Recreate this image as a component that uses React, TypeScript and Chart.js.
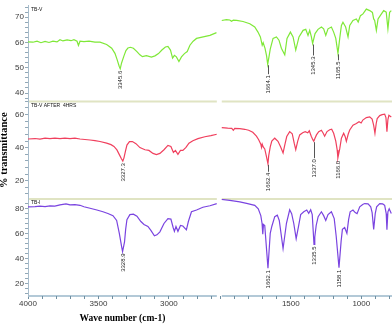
import React, { useEffect, useRef } from 'react';
import { Chart, registerables } from 'chart.js';

Chart.register(...registerables);

// ---------- Data (wavenumber cm-1, % transmittance) ----------
const tbvLeftWn = [4000,3965,3936,3908,3879,3851,3823,3794,3773,3752,3723,3695,3674,3652,3642,3631,3603,3567,3525,3489,3442,3406,3383,3367,3353,3345.6,3336,3319,3305,3291,3273,3252,3227,3206,3188,3160,3124,3099,3074,3050,3025,3007,2989,2974,2961,2947,2929,2911,2890,2870,2851,2828,2804,2757,2709,2662];
const tbvLeftT = [60.2,60.1,60.5,59.9,60.4,60.0,60.5,60.2,61.1,60.6,61.0,60.7,61.1,60.5,58.8,60.5,60.3,60.5,60.1,60.1,59.2,57.7,55.7,53.1,50.6,49.6,51.9,54.7,56.8,57.8,58.1,57.7,56.4,55.1,54.4,54.8,54.2,54.7,55.6,57.0,58.2,58.4,57.0,53.8,54.9,54.3,52.5,54.3,55.6,56.4,58.9,60.5,61.6,62.2,62.8,63.9];
const tbvRightWn = [1990,1957,1933,1921,1908,1884,1839,1791,1756,1733,1716,1703,1696,1683,1672,1664.1,1655,1646,1626,1602,1584,1567,1543,1527,1503,1484,1465,1442,1413,1394,1378,1366,1354,1345.3,1328,1307,1283,1267,1252,1236,1212,1196,1181,1165.5,1153,1141,1130,1111,1094,1082,1059,1035,1022,1006,988,964,940,921,912,905,893,881,857,841,823,811,799,787];
const tbvRightT = [68.7,69.0,68.9,68.4,68.8,68.7,68.3,67.4,66.1,64.1,62.2,58.9,59.9,57.7,54.7,51.4,54.3,57.4,61.6,62.2,60.9,57.7,55.1,61.6,64.1,62.2,57.0,62.2,64.8,65.2,62.8,64.8,62.2,59.6,63.5,65.2,66.1,65.4,62.8,65.4,66.1,64.1,61.6,55.7,61.6,66.7,68.0,66.1,62.2,66.7,68.7,69.3,68.1,70.6,71.3,73.2,72.6,71.9,69.3,68.7,64.8,69.3,71.3,72.6,72.0,65.4,71.9,72.6];

const tbv4LeftWn = [4000,3950,3915,3879,3844,3809,3773,3738,3702,3667,3631,3596,3560,3525,3489,3442,3411,3390,3369,3351,3337,3327.3,3319,3308,3298,3280,3259,3234,3206,3170,3142,3113,3089,3064,3035,3007,2986,2968,2954,2936,2918,2901,2879,2858,2830,2794,2745,2702,2660];
const tbv4LeftT = [45.2,45.5,45.2,45.7,45.4,45.8,45.5,45.8,45.5,45.7,45.2,44.9,44.6,44.2,43.7,42.7,41.8,40.7,38.6,35.6,33.2,31.8,33.8,38.0,41.5,43.6,43.7,42.4,40.0,38.7,38.3,36.5,35.8,36.5,38.7,41.3,40.7,37.1,38.3,35.9,38.3,38.3,40.1,42.7,44.2,45.4,46.6,47.3,48.1];
const tbv4RightWn = [1990,1948,1919,1908,1898,1862,1827,1799,1770,1744,1728,1713,1708,1703,1696,1685,1674,1662.4,1657,1646,1635,1614,1591,1572,1555,1543,1529,1508,1490,1476,1465,1451,1437,1416,1398,1380,1369,1355,1344,1337.0,1330,1318,1302,1283,1270,1260,1243,1224,1210,1196,1181,1171,1166.0,1153,1141,1125,1114,1106,1093,1082,1059,1035,1016,1001,989,964,940,923,912,903,894,887,869,852,834,825,818,811,804,787];
const tbv4RightT = [52.1,51.8,51.7,50.5,51.7,51.5,51.1,50.5,49.3,46.9,44.8,42.1,40.1,42.1,40.4,39.2,35.0,30.2,35.0,40.4,43.9,45.7,43.8,40.4,36.8,41.5,46.7,49.7,48.4,42.7,38.8,43.9,47.7,49.0,49.6,49.0,50.2,46.9,44.8,43.9,45.4,47.7,49.6,50.5,48.7,46.9,49.7,50.8,51.1,48.7,43.9,38.6,33.8,39.2,45.7,48.7,46.6,43.8,48.1,50.7,53.6,54.6,55.7,54.9,56.7,58.2,58.6,57.3,53.5,48.7,54.6,57.6,59.4,60.0,60.3,58.2,49.7,57.0,59.6,58.6];

const tbiLeftWn = [4000,3950,3915,3879,3844,3809,3773,3752,3730,3702,3667,3631,3603,3560,3511,3468,3433,3397,3371,3352,3335,3328.9,3315,3307,3298,3277,3252,3227,3199,3177,3149,3128,3103,3085,3064,3035,3007,2986,2970,2961,2950,2936,2918,2901,2876,2862,2840,2804,2759,2709,2660];
const tbiLeftT = [81.6,81.7,82.1,81.7,82.4,82.1,83.1,83.5,83.9,83.1,83.3,82.8,81.6,80.4,79.0,77.6,76.2,74.5,70.6,60.3,49.3,45.7,53.5,63.5,71.3,75.3,75.7,74.1,69.8,67.4,65.8,62.7,58.3,59.1,61.5,68.2,72.1,71.7,65.0,61.9,65.8,61.9,66.6,66.2,63.1,69.8,77.6,79.0,81.2,82.4,84.2];
const tbiRightWn = [1990,1933,1862,1806,1756,1731,1713,1704,1699,1694,1685,1662.1,1646,1635,1614,1596,1582,1555,1531,1508,1494,1479,1462,1444,1430,1408,1387,1373,1359,1348,1335.5,1330,1320,1306,1283,1267,1252,1236,1212,1192,1178,1158.1,1143,1134,1118,1102,1090,1079,1059,1043,1030,1011,990,976,952,933,923,912,901,891,869,848,834,823,818,811,802,787];
const tbiRightT = [87.5,86.7,85.5,84.2,82.8,80.0,74.5,68.2,59.5,67.4,66.6,32.4,60.3,65.8,73.7,74.9,70.6,48.1,68.4,79.2,76.1,68.2,56.0,66.6,75.3,77.6,79.0,76.3,79.2,75.3,51.4,57.2,66.6,73.7,77.6,74.5,70.6,75.3,77.6,72.1,58.0,32.8,54.0,63.5,65.0,60.3,71.3,77.6,79.0,76.9,76.1,81.6,83.5,84.2,83.9,81.6,76.9,63.5,76.1,81.6,84.2,83.9,82.8,76.1,63.2,77.6,80.0,76.3];

// annotated peaks (cm-1)
const tbvPeaks = [3345.6, 1664.1, 1345.3, 1165.5];
const tbv4Peaks = [3327.3, 1662.4, 1337.0, 1166.0];
const tbiPeaks = [3328.9, 1662.1, 1335.5, 1158.1];

// axis ticks / labels
const panelNames = ['TB-V', 'TB-V AFTER  4HRS', 'TB-I'];
const xTickLabels = [4000, 3500, 3000, 1500, 1000];
const yTopLabels = [40, 50, 60, 70];
const yMidLabels = [20, 40, 60];
const yBotLabels = [20, 40, 60, 80];

// x-range of the two segments of the broken axis
const LEFT_MIN = 2660, LEFT_MAX = 4000;
const RIGHT_MIN = 782, RIGHT_START = 1990, RIGHT_MAX = 2025;

const panels = [
  { name: panelNames[0], yId: 'yTop', color: '#7fe838', lw: tbvLeftWn, lt: tbvLeftT, rw: tbvRightWn, rt: tbvRightT, peaks: tbvPeaks, leads: [1, 10, 12, 7] },
  { name: panelNames[1], yId: 'yMid', color: '#f0405e', lw: tbv4LeftWn, lt: tbv4LeftT, rw: tbv4RightWn, rt: tbv4RightT, peaks: tbv4Peaks, leads: [1, 8, 17, 2] },
  { name: panelNames[2], yId: 'yBot', color: '#7a44e0', lw: tbiLeftWn, lt: tbiLeftT, rw: tbiRightWn, rt: tbiRightT, peaks: tbiPeaks, leads: [1, 1, 1, 1] },
];

const toPts = (w: number[], t: number[]) => w.map((x, i) => ({ x, y: t[i] }));

const findT = (p: any, w: number) => {
  let i = p.lw.indexOf(w);
  if (i >= 0) return p.lt[i];
  i = p.rw.indexOf(w);
  return p.rt[i];
};

const decor = {
  id: 'decor',
  beforeDraw(chart: any) {
    const { ctx, scales } = chart;
    const x1 = scales.x1, x2 = scales.x2;
    const segs = [
      [x1.getPixelForValue(LEFT_MAX), x1.getPixelForValue(LEFT_MIN)],
      [x2.getPixelForValue(RIGHT_START), x2.getPixelForValue(RIGHT_MIN)],
    ];
    ctx.save();
    ctx.lineWidth = 2;
    ctx.strokeStyle = '#e0e4c3';
    ['yMid', 'yBot'].forEach((id) => {
      const y = scales[id].top;
      segs.forEach(([a, b]) => { ctx.beginPath(); ctx.moveTo(a, y); ctx.lineTo(b, y); ctx.stroke(); });
    });
    ctx.strokeStyle = '#b3c9d7';
    const yb = scales.yBot.bottom;
    segs.forEach(([a, b]) => { ctx.beginPath(); ctx.moveTo(a, yb); ctx.lineTo(b, yb); ctx.stroke(); });
    ctx.restore();
  },
  afterDatasetsDraw(chart: any) {
    const { ctx, scales, chartArea } = chart;
    const x1 = scales.x1, x2 = scales.x2;
    ctx.save();
    panels.forEach((p) => {
      const ys = scales[p.yId];
      // panel name
      ctx.font = '5px "Liberation Sans", Arial, sans-serif';
      ctx.fillStyle = '#111';
      ctx.textAlign = 'left';
      ctx.textBaseline = 'middle';
      ctx.fillText(p.name, chartArea.left + 3, ys.top + 4);
      // peak labels
      p.peaks.forEach((w: number, k: number) => {
        const v = findT(p, w);
        const x = w >= LEFT_MIN ? x1.getPixelForValue(w) : x2.getPixelForValue(w);
        const y = ys.getPixelForValue(v);
        const lead = p.leads[k];
        const px = Math.round(x) + 0.5;
        if (lead > 2) {
          ctx.strokeStyle = '#555';
          ctx.lineWidth = 1;
          ctx.beginPath();
          ctx.moveTo(px, y + 1);
          ctx.lineTo(px, y + lead);
          ctx.stroke();
        }
        ctx.save();
        ctx.translate(px, y + lead + 1);
        ctx.rotate(-Math.PI / 2);
        ctx.font = '6px "Liberation Sans", Arial, sans-serif';
        ctx.fillStyle = '#222';
        ctx.textAlign = 'right';
        ctx.textBaseline = 'middle';
        ctx.fillText(w.toFixed(1), 0, 0);
        ctx.restore();
      });
    });
    ctx.restore();
  },
};

const tickFont = { family: '"Liberation Sans", Arial, sans-serif', size: 8 };

const yScale = (min: number, max: number, step: number, labels: number[], weight: number, stackWeight: number, title?: any) => ({
  type: 'linear',
  position: 'left',
  stack: 'panels',
  stackWeight,
  weight,
  min,
  max,
  border: { display: true, color: '#a7bccb', width: 1 },
  grid: { drawOnChartArea: false, drawTicks: true, tickLength: 3, color: '#92a8b7' },
  ticks: {
    stepSize: step,
    includeBounds: false,
    autoSkip: false,
    padding: 1,
    color: '#3a3a3a',
    font: tickFont,
    callback: (v: number) => (labels.includes(Math.round(v)) && Math.abs(v - Math.round(v)) < 1e-6 ? String(Math.round(v)) : ''),
  },
  title: title || { display: false },
  afterFit: (s: any) => { s.width = 28; },
});

const xScale = (min: number, max: number, weight: number, stackWeight: number, title?: any) => ({
  type: 'linear',
  position: 'bottom',
  stack: 'wn',
  stackWeight,
  weight,
  reverse: true,
  min,
  max,
  border: { display: false },
  grid: { drawOnChartArea: false, drawTicks: true, tickLength: 3, color: '#6f8ea0' },
  ticks: {
    stepSize: 100,
    includeBounds: false,
    autoSkip: false,
    maxRotation: 0,
    minRotation: 0,
    padding: 0,
    color: '#3a3a3a',
    font: tickFont,
    callback: (v: number) => (xTickLabels.includes(Math.round(v)) ? String(Math.round(v)) : ''),
  },
  title: title || { display: false },
  afterFit: (s: any) => { s.height = 29; },
});

export default function App() {
  const ref = useRef<HTMLCanvasElement>(null);

  useEffect(() => {
    const datasets: any[] = [];
    panels.forEach((p) => {
      datasets.push({
        data: toPts(p.lw, p.lt), xAxisID: 'x1', yAxisID: p.yId,
        borderColor: p.color, borderWidth: 1.2, pointRadius: 0, tension: 0, fill: false,
      });
      datasets.push({
        data: toPts(p.rw, p.rt), xAxisID: 'x2', yAxisID: p.yId,
        borderColor: p.color, borderWidth: 1.2, pointRadius: 0, tension: 0, fill: false,
      });
    });

    const chart = new Chart(ref.current as HTMLCanvasElement, {
      type: 'line',
      data: { datasets },
      options: {
        animation: false,
        responsive: false,
        devicePixelRatio: 1,
        events: [],
        layout: { padding: 0 },
        plugins: { legend: { display: false }, tooltip: { enabled: false }, title: { display: false } },
        scales: {
          yTop: yScale(36.7, 74.5, 2, yTopLabels, 3, 97.5),
          yMid: yScale(8.9, 68.0, 4, yMidLabels, 2, 99.5, {
            display: true, text: '% transmittance', color: '#000', padding: 0,
            font: { family: '"Liberation Serif", "Times New Roman", serif', size: 10.5, weight: 'bold', lineHeight: 0.8 },
          }),
          yBot: yScale(10.0, 87.9, 4, yBotLabels, 1, 99),
          x1: xScale(LEFT_MIN, LEFT_MAX, 1, LEFT_MAX - LEFT_MIN, {
            display: true, text: 'Wave number (cm-1)', color: '#000', padding: { top: 0, bottom: 1 },
            font: { family: '"Liberation Serif", "Times New Roman", serif', size: 9.5, weight: 'bold', lineHeight: 1.2 },
          }),
          x2: xScale(RIGHT_MIN, RIGHT_MAX, 2, RIGHT_MAX - RIGHT_MIN),
        } as any,
      },
      plugins: [decor as any],
    } as any);
    return () => chart.destroy();
  }, []);

  return (
    <div style={{ position: 'fixed', left: 0, top: 0, width: 392, height: 325, background: '#fff' }}>
      <canvas ref={ref} width={392} height={325} style={{ display: 'block', width: 392, height: 325 }} />
    </div>
  );
}
